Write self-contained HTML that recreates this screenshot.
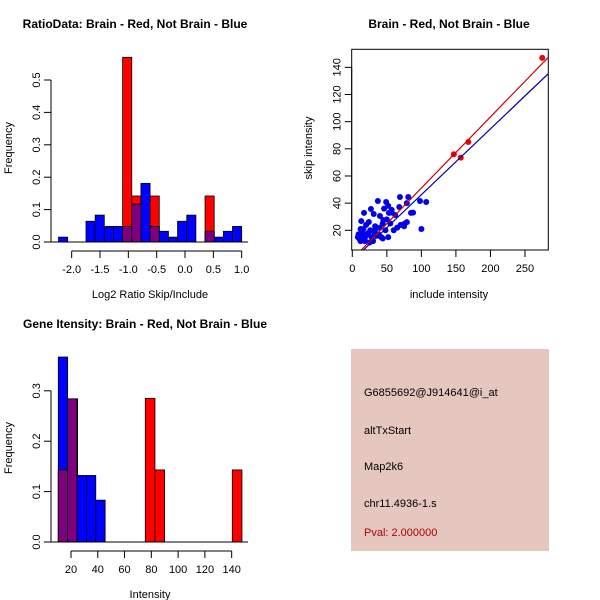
<!DOCTYPE html>
<html><head><meta charset="utf-8"><style>
body{margin:0;background:#fff;}
svg{display:block;font-family:"Liberation Sans",sans-serif;}
</style></head><body>
<svg id="c" width="600" height="600" xmlns="http://www.w3.org/2000/svg">
<rect x="0" y="0" width="600" height="600" fill="#fff"/>
<g id="p1"></g>
<g id="p2"></g>
<g id="p3"></g>
<g id="p4">
<rect x="351" y="349" width="198" height="202" fill="#e5c7c0"/>
<text x="364" y="396" font-size="11" fill="#000">G6855692@J914641@i_at</text>
<text x="364" y="434" font-size="11" fill="#000">altTxStart</text>
<text x="364" y="470" font-size="11" fill="#000">Map2k6</text>
<text x="364" y="507" font-size="11" fill="#000">chr11.4936-1.s</text>
<text x="364" y="536" font-size="11" fill="#b00000">Pval: 2.000000</text>
</g>
</svg>
<script>
// Panel 1 data
const ratioBlueStart = -2.232, ratioBlueWidth = 0.1616;
const ratioBlue = [0.015,0,0,0.064,0.083,0.048,0.048,0.048,0.117,0.181,0.048,0.033,0.015,0.064,0.083,0,0.033,0.015,0.033,0.048];
const ratioRedBins = [7,8,10,16];
const ratioRed = [0.570,0.142,0.142,0.142];
const ratioXTicks = [-2.0,-1.5,-1.0,-0.5,0.0,0.5,1.0];
const ratioXLabels = ["-2.0","-1.5","-1.0","-0.5","0.0","0.5","1.0"];
const ratioYTicks = [0,0.1,0.2,0.3,0.4,0.5];
const ratioYLabels = ["0.0","0.1","0.2","0.3","0.4","0.5"];
// Panel 2 data
const brainX = [275,147,157,168];
const brainY = [147,76,73.5,85];
const otherX = [69,81,79,37,49,27,57,62,40,53,45,17,13,24,31,68,85,98,107,88,100,76,70,75,60,65,50,44,40,32,28,22,18,14,12,10,8,15,20,26,34,38,44,52,56,14,11,16,20,25,30,36,42,48,55,9,12,18,23,33,46,52,74,79,57];
const otherY = [44.5,44.5,40,41.6,40.8,35.7,33.5,31.3,30.5,32.8,27.6,32.8,26.8,26.1,32,37.2,32.8,41.6,40.8,33,21,25,24,23,20,22,28,25,22,18,15,17,13,14,12,14,15,18,16,20,21,17,14,15,33,19,16,21,24,11,12,16,15,20,25,17,21,12,18,23,36,38,24,26,35];
const redLine = [0.524,-1.3];
const blueLine = [0.485,-2.3];
const scatXTicks = [0,50,100,150,200,250];
const scatYTicks = [20,40,60,80,100,120,140];
// Panel 3 data
const intBlueStart = 10.5, intBlueWidth = 7;
const intBlue = [0.367,0.284,0.132,0.132,0.083];
const intRedStart = 10.5, intRedWidth = 7.22;
const intRedBins = [0,1,9,10,18];
const intRed = [0.143,0.284,0.285,0.143,0.143];
const intXTicks = [20,40,60,80,100,120,140];
const intYTicks = [0,0.1,0.2,0.3];
const intYLabels = ["0.0","0.1","0.2","0.3"];

const NS="http://www.w3.org/2000/svg";
function mk(parent,tag,attrs,txt){const e=document.createElementNS(NS,tag);for(const k in attrs)e.setAttribute(k,attrs[k]);if(txt!==undefined)e.textContent=txt;parent.appendChild(e);return e;}
const PURPLE="#7f007f";

function yAxis(g,sy,ticks,labels,x,name){
  const l=mk(g,'line',{x1:x,x2:x,y1:sy(ticks[0]),y2:sy(ticks[ticks.length-1]),stroke:'#000'});
  
  
  ticks.forEach((t,i)=>{
    mk(g,'line',{x1:x-7,x2:x,y1:sy(t),y2:sy(t),stroke:'#000'});
    const tx=mk(g,'text',{x:x-11,y:sy(t),'font-size':11,'text-anchor':'middle',transform:`rotate(-90 ${x-11} ${sy(t)})`},labels[i]);
    
    
  });
}
function xAxis(g,sx,ticks,labels,y,name){
  const l=mk(g,'line',{x1:sx(ticks[0]),x2:sx(ticks[ticks.length-1]),y1:y,y2:y,stroke:'#000'});
  
  
  ticks.forEach((t,i)=>{
    mk(g,'line',{x1:sx(t),x2:sx(t),y1:y,y2:y+7,stroke:'#000'});
    const tx=mk(g,'text',{x:sx(t),y:y+22,'font-size':11,'text-anchor':'middle'},labels[i]);
    
    
  });
}
function label(g,x,y,txt,name,opts){
  const t=mk(g,'text',Object.assign({x:x,y:y,'font-size':11,'text-anchor':'middle'},opts||{}),txt);
  
  
}
function bar(g,x0,x1,y0,yv,fill,name){
  const r=mk(g,'rect',{x:Math.min(x0,x1),y:Math.min(y0,yv),width:Math.abs(x1-x0),height:Math.abs(y0-yv),fill:fill,stroke:'#000','stroke-width':0.8});
  
  
}

// Panel 1
(function(){
  const g=document.getElementById('p1');
  const sx=v=>71.67+(v+2)*56.67, sy=v=>242-v*324;
  ratioRedBins.forEach((b,i)=>{
    const a=ratioBlueStart+b*ratioBlueWidth;
    bar(g,sx(a),sx(a+ratioBlueWidth),sy(0),sy(ratioRed[i]),'#ff0000','ratio-red-bar');
  });
  ratioBlue.forEach((v,i)=>{
    if(v<=0)return;
    const a=ratioBlueStart+i*ratioBlueWidth;
    const ri=ratioRedBins.indexOf(i);
    bar(g,sx(a),sx(a+ratioBlueWidth),sy(0),sy(v),'#0000ff','ratio-blue-bar');
    if(ri>=0){bar(g,sx(a),sx(a+ratioBlueWidth),sy(0),sy(Math.min(v,ratioRed[ri])),PURPLE,'ratio-overlap-bar');}
  });
  mk(g,'line',{x1:49,x2:248,y1:sy(0),y2:sy(0),stroke:'#000'});
  yAxis(g,sy,ratioYTicks,ratioYLabels,51,'ratio');
  xAxis(g,sx,ratioXTicks,ratioXLabels,251,'ratio');
  label(g,135,28,'RatioData: Brain - Red, Not Brain - Blue','ratio-title',{'font-weight':'bold','font-size':12});
  label(g,150,298,'Log2 Ratio Skip/Include','ratio-x-title');
  label(g,12,148,'Frequency','ratio-y-title',{transform:'rotate(-90 12 148)'});
})();

// Panel 2
(function(){
  const g=document.getElementById('p2');
  const sx=v=>352.3+v*0.6907, sy=v=>230.3-(v-20)*1.358;
  mk(g,'rect',{x:351.7,y:49.3,width:196.6,height:200.7,fill:'none',stroke:'#000'});
  const clip=mk(g,'clipPath',{id:'cp2'});mk(clip,'rect',{x:351.7,y:49.3,width:196.6,height:200.7});
  const lg=mk(g,'g',{'clip-path':'url(#cp2)'});
  otherX.forEach((x,i)=>{
    const c=mk(lg,'circle',{cx:sx(x),cy:sy(otherY[i]),r:3,fill:'#0000ee'});
    
    
  });
  brainX.forEach((x,i)=>{
    const c=mk(lg,'circle',{cx:sx(x),cy:sy(brainY[i]),r:3,fill:'#ee0000'});
    
    
  });
  const x0=-10,x1=300;
  const bl=mk(lg,'line',{x1:sx(x0),y1:sy(blueLine[0]*x0+blueLine[1]),x2:sx(x1),y2:sy(blueLine[0]*x1+blueLine[1]),stroke:'#0000aa','stroke-width':1.2});
  
  
  const rl=mk(lg,'line',{x1:sx(x0),y1:sy(redLine[0]*x0+redLine[1]),x2:sx(x1),y2:sy(redLine[0]*x1+redLine[1]),stroke:'#cc0000','stroke-width':1.2});
  
  
  yAxis(g,sy,scatYTicks,scatYTicks.map(String),351.7,'scatter');
  xAxis(g,sx,scatXTicks,scatXTicks.map(String),250,'scatter');
  label(g,449,28,'Brain - Red, Not Brain - Blue','scatter-title',{'font-weight':'bold','font-size':12});
  label(g,449,298,'include intensity','scatter-x-title');
  label(g,312,148,'skip intensity','scatter-y-title',{transform:'rotate(-90 312 148)'});
})();

// Panel 3
(function(){
  const g=document.getElementById('p3');
  const sx=v=>71+(v-20)*1.339, sy=v=>542-v*504;
  intRedBins.forEach((b,i)=>{
    const a=intRedStart+b*intRedWidth;
    bar(g,sx(a),sx(a+intRedWidth),sy(0),sy(intRed[i]),'#ff0000','intensity-red-bar');
  });
  intBlue.forEach((v,i)=>{
    const a=intBlueStart+i*intBlueWidth;
    bar(g,sx(a),sx(a+intBlueWidth),sy(0),sy(v),'#0000ff','intensity-blue-bar');
    const ri=intRedBins.indexOf(i);
    if(ri>=0){bar(g,sx(a),sx(a+intBlueWidth),sy(0),sy(Math.min(v,intRed[ri])),PURPLE,'intensity-overlap-bar');}
  });
  mk(g,'line',{x1:49,x2:248,y1:sy(0),y2:sy(0),stroke:'#000'});
  yAxis(g,sy,intYTicks,intYLabels,51,'intensity');
  xAxis(g,sx,intXTicks,intXTicks.map(String),551,'intensity');
  label(g,145,328,'Gene Itensity: Brain - Red, Not Brain - Blue','intensity-title',{'font-weight':'bold','font-size':12});
  label(g,150,598,'Intensity','intensity-x-title');
  label(g,12,448,'Frequency','intensity-y-title',{transform:'rotate(-90 12 448)'});
})();
</script>
</body></html>
